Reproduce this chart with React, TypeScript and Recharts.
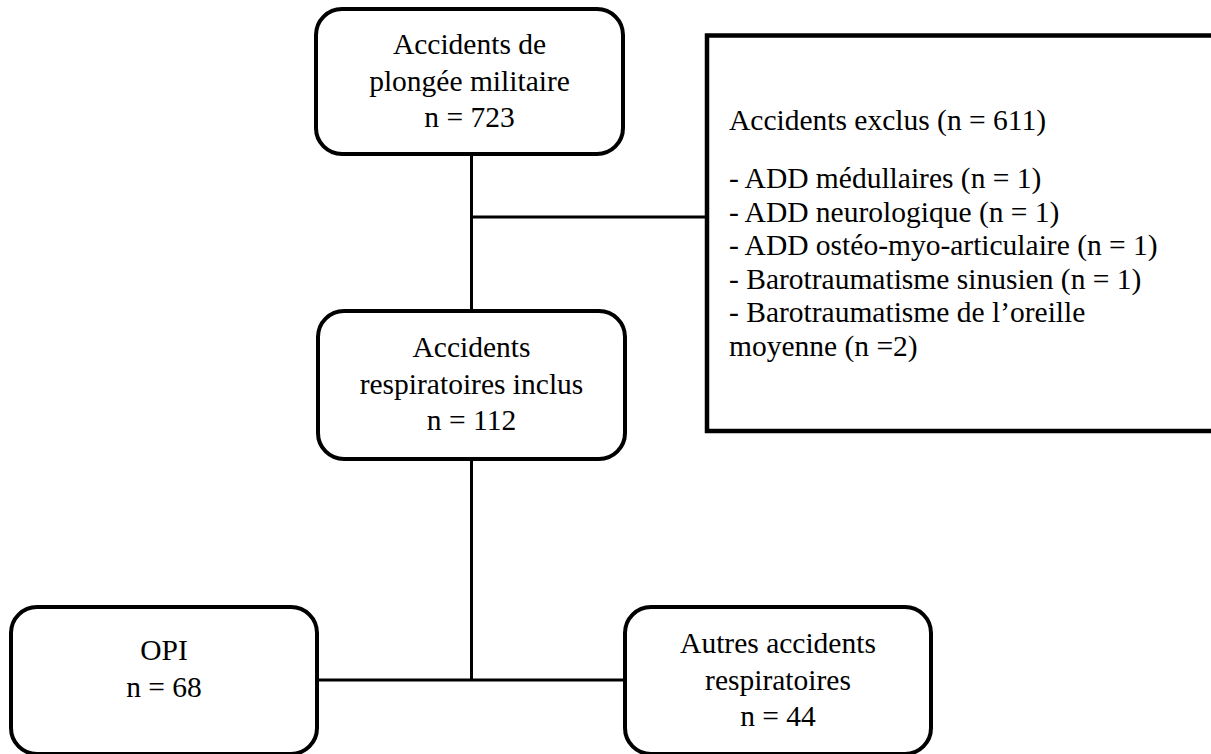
import { ScatterChart, Scatter, XAxis, YAxis, ReferenceLine } from 'recharts'

const boxLabels = [
  ['Accidents de', 'plongée militaire'],
  ['Accidents', 'respiratoires inclus'],
  ['OPI'],
  ['Autres accidents', 'respiratoires'],
]
const boxCounts = [723, 112, 68, 44]

const excludedTitle = 'Accidents exclus'
const excludedTotal = 611
const excludedCauses = [
  'ADD médullaires',
  'ADD neurologique',
  'ADD ostéo-myo-articulaire',
  'Barotraumatisme sinusien',
  'Barotraumatisme de l’oreille\nmoyenne',
]
const excludedCounts = [1, 1, 1, 1, 2]

const W = 1211
const H = 754
const FONT = 'Liberation Serif'
const FS = 29.5
const LINE = 36.5

// box geometry (same units as the axes, 1 unit = 1px)
const boxLayout = [
  { x: 316, y: 9, w: 307, h: 145, first: 54 },
  { x: 318, y: 311, w: 307, h: 148, first: 357 },
  { x: 11, y: 607, w: 306, h: 147, first: 660 },
  { x: 625, y: 607, w: 306, h: 147, first: 653 },
]
const excludedLayout = { x: 707, y: 35.5, w: 540, h: 395.5, title: 130, first: 188, line: 33.5, pad: 22 }

const connectors = [
  [{ x: 471.5, y: 154 }, { x: 471.5, y: 311 }],
  [{ x: 471.5, y: 217 }, { x: 707, y: 217 }],
  [{ x: 471.5, y: 459 }, { x: 471.5, y: 680 }],
  [{ x: 317, y: 680 }, { x: 625, y: 680 }],
]

const boxes = boxLabels.map((lines, i) => ({
  x: boxLayout[i].x + boxLayout[i].w / 2,
  y: boxLayout[i].y + boxLayout[i].h / 2,
  lines: [...lines, `n = ${boxCounts[i]}`],
  layout: boxLayout[i],
}))

const excludedLines = excludedCauses
  .map((c, i) => {
    const parts = c.split('\n')
    const n = i === excludedCauses.length - 1 ? `(n =${excludedCounts[i]})` : `(n = ${excludedCounts[i]})`
    parts[0] = '- ' + parts[0]
    parts[parts.length - 1] += ' ' + n
    return parts
  })
  .flat()

const excluded = [
  {
    x: excludedLayout.x + excludedLayout.w / 2,
    y: excludedLayout.y + excludedLayout.h / 2,
  },
]

function NodeBox(props: any) {
  const { cx, cy, payload } = props
  const l = payload.layout
  const top = cy - l.h / 2
  return (
    <g>
      <rect
        x={cx - l.w / 2}
        y={top}
        width={l.w}
        height={l.h}
        rx={26}
        ry={26}
        fill="#fff"
        stroke="#000"
        strokeWidth={4}
      />
      {payload.lines.map((t: string, j: number) => (
        <text
          key={j}
          x={cx}
          y={top + (l.first - l.y) + j * LINE}
          textAnchor="middle"
          fontFamily={FONT}
          fontSize={FS}
          fill="#000"
        >
          {t}
        </text>
      ))}
    </g>
  )
}

function ExcludedBox(props: any) {
  const { cx, cy } = props
  const l = excludedLayout
  const left = cx - l.w / 2
  const top = cy - l.h / 2
  return (
    <g>
      <rect x={left} y={top} width={l.w} height={l.h} fill="#fff" stroke="#000" strokeWidth={4.5} />
      <text x={left + l.pad} y={top + (l.title - l.y)} fontFamily={FONT} fontSize={FS} fill="#000">
        {`${excludedTitle} (n = ${excludedTotal})`}
      </text>
      {excludedLines.map((t, j) => (
        <text
          key={j}
          x={left + l.pad}
          y={top + (l.first - l.y) + j * l.line}
          fontFamily={FONT}
          fontSize={FS}
          fill="#000"
        >
          {t}
        </text>
      ))}
    </g>
  )
}

export default function App() {
  return (
    <div style={{ position: 'absolute', left: 0, top: 0, width: W, height: H, background: '#fff' }}>
      <ScatterChart width={W} height={H} margin={{ top: 0, right: 0, bottom: 0, left: 0 }}>
        <XAxis type="number" dataKey="x" domain={[0, W]} hide allowDataOverflow />
        <YAxis type="number" dataKey="y" domain={[0, H]} reversed hide allowDataOverflow />
        {connectors.map((seg, i) => (
          <ReferenceLine key={i} segment={seg} stroke="#000" strokeWidth={3} ifOverflow="visible" />
        ))}
        <Scatter data={excluded} shape={ExcludedBox} isAnimationActive={false} />
        <Scatter data={boxes} shape={NodeBox} isAnimationActive={false} />
      </ScatterChart>
    </div>
  )
}
